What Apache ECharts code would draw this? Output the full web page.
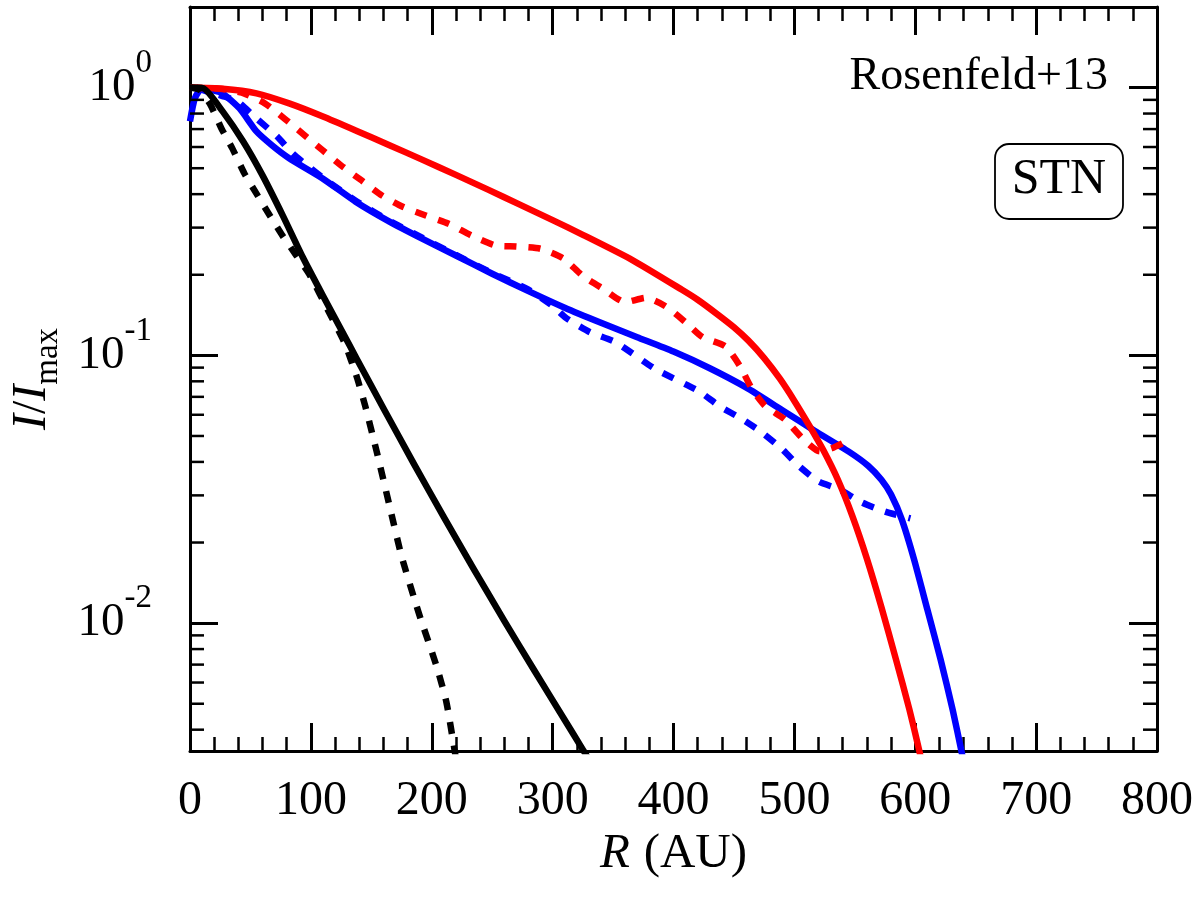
<!DOCTYPE html>
<html><head><meta charset="utf-8">
<script src="https://cdn.jsdelivr.net/npm/echarts@6/dist/echarts.min.js"></script>
<style>html,body{margin:0;padding:0;background:#fff}#c{width:1200px;height:900px}</style>
</head><body><div id="c"></div>
<script>
// ---- axis definitions ----
const X_MIN = 0, X_MAX = 800, X_INTERVAL = 100;
const Y_MIN = 0.00333, Y_MAX = 2;
const yMinorTicks = [0.004,0.005,0.006,0.007,0.008,0.009,
                     0.02,0.03,0.04,0.05,0.06,0.07,0.08,0.09,
                     0.2,0.3,0.4,0.5,0.6,0.7,0.8,0.9];

// ---- data (R in AU, I/Imax) ----
const redSolidR = [0, 27, 55, 82, 110, 137, 165, 192, 220, 247, 272, 300, 325, 366, 407, 420, 435, 450, 462, 475, 488, 500, 512, 524, 536, 548, 560, 572, 584, 595, 603, 610];
const redSolidI = [1.0, 0.99, 0.952, 0.873, 0.78, 0.692, 0.6095, 0.5383, 0.472, 0.415, 0.367, 0.32, 0.282, 0.227, 0.1758, 0.1614, 0.1439, 0.1274, 0.1135, 0.0977, 0.0818, 0.0676, 0.055, 0.0442, 0.0343, 0.0251, 0.0174, 0.01148, 0.00733, 0.00479, 0.00339, 0.00245];

const redDashR = [0, 25, 45, 62, 78, 93, 110, 125, 142, 159, 176, 195, 214, 233, 253, 270, 290, 309, 325, 342, 360, 377, 393, 410, 424, 443, 455, 465, 476, 492, 506, 521, 531, 540];
const redDashI = [1.0, 0.99, 0.95, 0.873, 0.767, 0.674, 0.582, 0.512, 0.45, 0.395, 0.359, 0.333, 0.31, 0.28, 0.257, 0.255, 0.25, 0.23, 0.198, 0.177, 0.158, 0.164, 0.153, 0.133, 0.117, 0.108, 0.0912, 0.0748, 0.0646, 0.0577, 0.0494, 0.0438, 0.045, 0.047];

const blueSolidR = [0, 4, 10, 20, 27, 41, 55, 68, 82, 110, 137, 165, 192, 220, 250, 280, 310, 340, 370, 400, 430, 460, 490, 517, 545, 561, 572, 580, 589, 599, 610, 621, 631, 638, 643];
const blueSolidI = [0.748, 0.912, 0.995, 0.975, 0.952, 0.836, 0.686, 0.608, 0.545, 0.457, 0.375, 0.316, 0.273, 0.236, 0.2018, 0.1738, 0.1507, 0.1324, 0.1169, 0.1033, 0.0895, 0.0759, 0.0624, 0.0522, 0.0437, 0.0387, 0.0343, 0.0302, 0.0243, 0.0173, 0.01125, 0.00731, 0.00474, 0.00336, 0.00263];

const blueDashR = [5, 14, 27, 39, 55, 72, 85, 100, 110, 137, 165, 192, 220, 250, 280, 300, 311, 331, 352, 385, 421, 438, 457, 473, 490, 504, 520, 537, 556, 575, 596];
const blueDashI = [1.0, 0.968, 0.93, 0.889, 0.767, 0.657, 0.567, 0.499, 0.46, 0.378, 0.318, 0.275, 0.237, 0.203, 0.176, 0.153, 0.138, 0.122, 0.112, 0.0889, 0.0735, 0.0646, 0.0577, 0.0516, 0.0446, 0.0385, 0.0338, 0.0316, 0.0282, 0.0261, 0.0246];

const blackSolidR = [0, 11, 27, 44, 60, 77, 93, 110, 126, 138, 160, 185, 210, 235, 260, 285, 310, 325, 332];
const blackSolidI = [1.0, 0.994, 0.815, 0.629, 0.47, 0.331, 0.234, 0.167, 0.1225, 0.097, 0.0635, 0.0395, 0.0249, 0.01585, 0.0102, 0.00664, 0.00435, 0.00337, 0.003];

const blackDashR = [0, 8, 16.5, 26, 35, 45, 55, 66, 76.5, 88, 99, 115, 128, 138, 145, 155, 165, 175, 189, 204, 212, 218, 222];
const blackDashI = [1.0, 0.98, 0.87, 0.704, 0.593, 0.478, 0.402, 0.333, 0.28, 0.236, 0.2, 0.145, 0.111, 0.083, 0.0646, 0.0427, 0.0275, 0.0178, 0.011, 0.0069, 0.0051, 0.00355, 0.00275];

const FONT = "'Liberation Serif', 'DejaVu Serif', serif";
const zip = (a, b) => a.map((v, i) => [v, b[i]]);

function lineSeries(name, r, v, color, dashed, z) {
  return {
    name, type: 'line', data: zip(r, v), showSymbol: false, symbol: 'none',
    smooth: 0.2, clip: true, z,
    lineStyle: { color, width: 6.5, type: dashed ? [12, 12] : 'solid', cap: 'butt', join: 'round' },
    emphasis: { disabled: true }
  };
}

const chart = echarts.init(document.getElementById('c'), null, { renderer: 'canvas' });

const axisLineStyle = { color: '#000', width: 3 };
function xAxisCfg(pos, showLabel) {
  return {
    type: 'value', min: X_MIN, max: X_MAX, interval: X_INTERVAL, position: pos,
    axisLine: { show: true, onZero: false, lineStyle: axisLineStyle },
    axisTick: { show: true, inside: true, length: 28, lineStyle: { color: '#000', width: 3 } },
    minorTick: { show: true, splitNumber: 5, length: 14, lineStyle: { color: '#000', width: 2.5 } },
    splitLine: { show: false }, minorSplitLine: { show: false },
    axisLabel: { show: showLabel, margin: 26, fontFamily: FONT, fontSize: 48, color: '#000' }
  };
}
function yAxisCfg(pos, showLabel) {
  return {
    type: 'log', logBase: 10, min: Y_MIN, max: Y_MAX, position: pos,
    axisLine: { show: true, onZero: false, lineStyle: axisLineStyle },
    axisTick: { show: true, inside: true, length: 28, lineStyle: { color: '#000', width: 3 } },
    minorTick: { show: false },
    splitLine: { show: false }, minorSplitLine: { show: false },
    axisLabel: {
      show: showLabel, margin: 38, color: '#000',
      showMinLabel: false, showMaxLabel: false,
      formatter: function (v) {
        const e = Math.log10(v), r = Math.round(e);
        if (Math.abs(e - r) > 1e-6) return '';
        return '{b|10}{s|' + r + '}';
      },
      rich: {
        b: { fontFamily: FONT, fontSize: 47, lineHeight: 82, verticalAlign: 'middle', color: '#000' },
        s: { fontFamily: FONT, fontSize: 33, lineHeight: 33, verticalAlign: 'top', color: '#000' }
      }
    }
  };
}

const xMain = xAxisCfg('bottom', true);
xMain.name = '{i|R}{n|\u2009(AU)}';
xMain.nameLocation = 'middle';
xMain.nameGap = 76;
xMain.nameTextStyle = {
  rich: {
    i: { fontFamily: FONT, fontStyle: 'italic', fontSize: 49, color: '#000', padding: [0, 4, 0, 0] },
    n: { fontFamily: FONT, fontSize: 49, color: '#000' }
  }
};
const yMain = yAxisCfg('left', true);
yMain.name = '{i|I}{n|/}{i|I}{s|max}';
yMain.nameLocation = 'middle';
yMain.nameRotate = 90;
yMain.nameGap = 125;
yMain.nameTextStyle = {
  rich: {
    i: { fontFamily: FONT, fontStyle: 'italic', fontSize: 48, lineHeight: 66, verticalAlign: 'middle', color: '#000' },
    n: { fontFamily: FONT, fontSize: 48, lineHeight: 66, verticalAlign: 'middle', color: '#000' },
    s: { fontFamily: FONT, fontSize: 33, lineHeight: 33, verticalAlign: 'bottom', color: '#000' }
  }
};

const option = {
  animation: false,
  backgroundColor: '#fff',
  grid: { left: 185, top: 7, right: 43, bottom: 149, containLabel: false },
  xAxis: [xMain, xAxisCfg('top', false)],
  yAxis: [yMain, yAxisCfg('right', false)],
  series: [
    lineSeries('blue solid', blueSolidR, blueSolidI, '#0000ff', false, 2),
    lineSeries('blue dashed', blueDashR, blueDashI, '#0000ff', true, 3),
    lineSeries('red solid', redSolidR, redSolidI, '#ff0000', false, 4),
    lineSeries('red dashed', redDashR, redDashI, '#ff0000', true, 5),
    lineSeries('black solid', blackSolidR, blackSolidI, '#000000', false, 6),
    lineSeries('black dashed', blackDashR, blackDashI, '#000000', true, 7),
    {
      type: 'custom', coordinateSystem: 'cartesian2d', xAxisIndex: 0, yAxisIndex: 0,
      data: yMinorTicks.map(v => [X_MIN, v]), clip: false, silent: true, z: 10,
      renderItem: function (params, api) {
        const cs = params.coordSys;
        const y = api.coord([X_MIN, api.value(1)])[1];
        return {
          type: 'group', children: [
            { type: 'line', shape: { x1: cs.x, y1: y, x2: cs.x + 14, y2: y }, style: { stroke: '#000', lineWidth: 2.5 } },
            { type: 'line', shape: { x1: cs.x + cs.width, y1: y, x2: cs.x + cs.width - 14, y2: y }, style: { stroke: '#000', lineWidth: 2.5 } }
          ]
        };
      }
    }
  ],
  graphic: [
    { type: 'text', x: 1108, y: 77, z: 20,
      style: { text: 'Rosenfeld+13', x: 0, y: 0, textAlign: 'right', textVerticalAlign: 'middle', font: "46px " + FONT, fill: '#000' } },
    { type: 'rect', x: 995, y: 144, z: 19,
      shape: { x: 0, y: 0, width: 128, height: 75, r: 14 },
      style: { fill: '#fff', stroke: '#000', lineWidth: 1.8 } },
    { type: 'text', x: 1059, y: 180, z: 20,
      style: { text: 'STN', x: 0, y: 0, textAlign: 'center', textVerticalAlign: 'middle', font: "50px " + FONT, fill: '#000' } }
  ]
};
chart.setOption(option);
</script>
</body></html>
